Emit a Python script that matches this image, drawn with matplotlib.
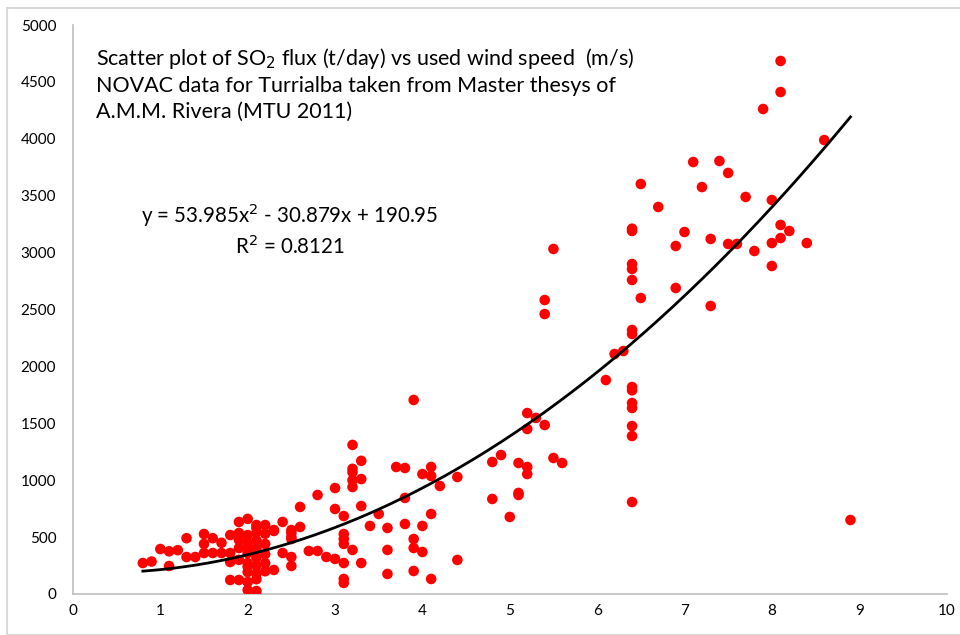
import numpy as np
import matplotlib.pyplot as plt
from matplotlib.patches import Rectangle

# wind speed (m/s) and SO2 flux (t/day)
wind_speed = [0.8, 0.9, 1.0, 1.1, 1.1, 1.2, 1.3, 1.3, 1.4, 1.5, 1.5, 1.5, 1.6, 1.6, 1.7, 1.7,
              1.8, 1.8, 1.8, 1.8, 1.9, 1.9, 1.9, 1.9, 1.9, 1.9,
              2.0, 2.0, 2.0, 2.0, 2.0, 2.0, 2.0, 2.0, 2.0, 2.0,
              2.1, 2.1, 2.1, 2.1, 2.1, 2.1, 2.1, 2.1, 2.1, 2.1,
              2.2, 2.2, 2.2, 2.2, 2.2, 2.2, 2.3, 2.3, 2.3, 2.4, 2.4,
              2.5, 2.5, 2.5, 2.5, 2.5, 2.5, 2.6, 2.6, 2.7, 2.8, 2.8, 2.9,
              3.0, 3.0, 3.0, 3.1, 3.1, 3.1, 3.1, 3.1, 3.1, 3.1,
              3.2, 3.2, 3.2, 3.2, 3.2, 3.2, 3.3, 3.3, 3.3, 3.3, 3.4, 3.5,
              3.6, 3.6, 3.6, 3.7, 3.8, 3.8, 3.8, 3.9, 3.9, 3.9, 3.9,
              4.0, 4.0, 4.0, 4.1, 4.1, 4.1, 4.1, 4.2, 4.4, 4.4,
              4.8, 4.8, 4.9, 5.0, 5.1, 5.1, 5.1, 5.2, 5.2, 5.2, 5.2, 5.3,
              5.4, 5.4, 5.4, 5.5, 5.5, 5.6, 6.1, 6.2, 6.3,
              6.4, 6.4, 6.4, 6.4, 6.4, 6.4, 6.4, 6.4, 6.4, 6.4, 6.4, 6.4, 6.4, 6.4,
              6.5, 6.5, 6.7, 6.9, 6.9, 7.0, 7.1, 7.2, 7.3, 7.3, 7.4, 7.5, 7.5, 7.6,
              7.7, 7.8, 7.9, 8.0, 8.0, 8.0, 8.1, 8.1, 8.1, 8.1, 8.2, 8.4, 8.6, 8.9]
so2_flux = [272, 285, 395, 246, 375, 385, 490, 325, 325, 527, 440, 360, 490, 360, 450, 360,
            518, 360, 281, 123, 123, 633, 536, 475, 404, 300,
            660, 518, 450, 360, 272, 193, 105, 35, 420, 240,
            606, 540, 470, 400, 320, 250, 180, 130, 26, 580,
            606, 530, 440, 350, 270, 200, 562, 211, 554, 633, 360,
            562, 500, 536, 483, 325, 246, 765, 589, 378, 870, 378, 325,
            931, 747, 308, 685, 527, 483, 440, 272, 132, 97,
            1310, 1100, 1070, 1000, 940, 387, 1170, 1010, 773, 272, 598, 703,
            580, 387, 176, 1116, 1107, 844, 615, 1705, 483, 404, 202,
            1054, 598, 369, 1116, 1037, 703, 132, 949, 1028, 299,
            1160, 835, 1221, 677, 1151, 888, 870, 1590, 1450, 1116, 1054, 1547,
            2583, 2460, 1485, 3032, 1195, 1151, 1880, 2109, 2135,
            3210, 3190, 2900, 2856, 2759, 2320, 2285, 1819, 1790, 1678, 1634, 1476, 1388, 808,
            3603, 2601, 3401, 3058, 2689, 3181, 3796, 3576, 3120, 2531, 3805, 3700, 3076, 3076,
            3489, 3014, 4262, 3462, 3084, 2882, 4684, 4411, 3243, 3128, 3190, 3084, 3989, 650]

# polynomial trendline from the chart label
trend_coef = [53.985, -30.879, 190.95]
r_squared = 0.8121
trend_range = [0.8, 8.9]

plt.rcParams['font.family'] = ['Lato', 'DejaVu Sans']

fig = plt.figure(figsize=(9.6, 6.35), dpi=100)
ax = fig.add_axes([0.076, 0.0646, 0.91, 0.896])

ax.scatter(wind_speed, so2_flux, s=58, color='#FF0000', edgecolors='none', zorder=3)

xs = np.linspace(trend_range[0], trend_range[1], 200)
ax.plot(xs, np.polyval(trend_coef, xs), color='black', lw=2, zorder=4)

ax.set_xlim(0, 10)
ax.set_ylim(0, 5000)
ax.set_xticks(range(0, 11))
ax.set_yticks(range(0, 5001, 500))
ax.tick_params(length=0, labelsize=11, labelcolor='black')
ax.tick_params(axis='y', pad=12)
ax.tick_params(axis='x', pad=7)

for side in ['top', 'right']:
    ax.spines[side].set_visible(False)
for side in ['left', 'bottom']:
    ax.spines[side].set_color('#BFBFBF')
    ax.spines[side].set_linewidth(1.2)

ax.text(0.026, 0.963,
        'Scatter plot of SO$_2$ flux (t/day) vs used wind speed  (m/s)\n'
        'NOVAC data for Turrialba taken from Master thesys of\n'
        'A.M.M. Rivera (MTU 2011)',
        transform=ax.transAxes, ha='left', va='top', fontsize=15.5, linespacing=1.33)

eq = 'y = %.3fx$^2$ - %.3fx + %.2f\nR$^2$ = %.4f' % (trend_coef[0], -trend_coef[1], trend_coef[2], r_squared)
ax.text(2.48, 3203, eq, ha='center', va='center', fontsize=14.8, linespacing=1.3)

# chart area border
fig.patches.append(Rectangle((7 / 960, 0), 1, 1 - 8 / 635, transform=fig.transFigure,
                             fill=False, edgecolor='#D9D9D9', lw=1.5))

plt.savefig('out.png', dpi=100)
